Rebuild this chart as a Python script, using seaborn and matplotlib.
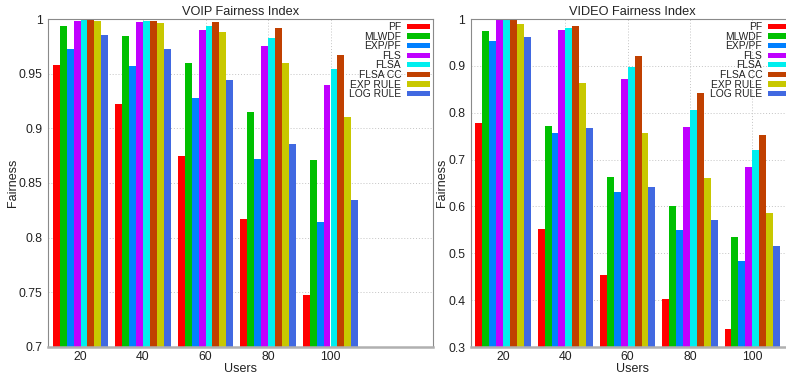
import matplotlib
matplotlib.use("Agg")
import matplotlib.pyplot as plt
import seaborn as sns
import pandas as pd
from matplotlib.ticker import FuncFormatter, MultipleLocator

# ---- data -------------------------------------------------------------
users = ["20", "40", "60", "80", "100"]
schedulers = ["PF", "MLWDF", "EXP/PF", "FLS", "FLSA", "FLSA CC", "EXP RULE", "LOG RULE"]
colors = ["#ff0000", "#00c000", "#0080ff", "#c000ff", "#00eeee", "#c04000", "#c8c800", "#4169e1"]

# VOIP fairness index per scheduler (users = 20, 40, 60, 80, 100)
voip_pf       = [0.958, 0.922, 0.875, 0.817, 0.748]
voip_mlwdf    = [0.994, 0.984, 0.960, 0.915, 0.871]
voip_exp_pf   = [0.973, 0.957, 0.928, 0.872, 0.814]
voip_fls      = [0.998, 0.997, 0.990, 0.975, 0.940]
voip_flsa     = [0.999, 0.998, 0.994, 0.983, 0.954]
voip_flsa_cc  = [1.000, 0.998, 0.997, 0.992, 0.967]
voip_exp_rule = [0.998, 0.996, 0.988, 0.960, 0.910]
voip_log_rule = [0.985, 0.973, 0.944, 0.886, 0.834]

# VIDEO fairness index per scheduler
video_pf       = [0.777, 0.551, 0.454, 0.402, 0.338]
video_mlwdf    = [0.974, 0.772, 0.663, 0.600, 0.534]
video_exp_pf   = [0.952, 0.757, 0.631, 0.549, 0.483]
video_fls      = [0.999, 0.977, 0.873, 0.770, 0.684]
video_flsa     = [0.999, 0.980, 0.897, 0.806, 0.720]
video_flsa_cc  = [1.000, 0.984, 0.920, 0.842, 0.752]
video_exp_rule = [0.989, 0.863, 0.756, 0.660, 0.585]
video_log_rule = [0.962, 0.767, 0.641, 0.572, 0.515]

voip_series = [voip_pf, voip_mlwdf, voip_exp_pf, voip_fls,
               voip_flsa, voip_flsa_cc, voip_exp_rule, voip_log_rule]
video_series = [video_pf, video_mlwdf, video_exp_pf, video_fls,
                video_flsa, video_flsa_cc, video_exp_rule, video_log_rule]


def long_table(series):
    rows = []
    for name, vals in zip(schedulers, series):
        for u, v in zip(users, vals):
            rows.append({"Users": u, "Fairness": v, "Scheduler": name})
    return pd.DataFrame(rows)


# ---- style ------------------------------------------------------------
sns.set_style("white")
plt.rcParams["font.family"] = ["Liberation Sans", "DejaVu Sans"]
text_col = "#222222"
spine_col = "#8a8a8a"
grid_col = "#c4c4c4"

W, H = 786, 376
fig = plt.figure(figsize=(W / 100, H / 100), dpi=100)
fig.patch.set_facecolor("white")

ax_v = fig.add_axes([48 / W, 29 / H, 385 / W, 328 / H])
ax_d = fig.add_axes([470.7 / W, 29 / H, (794 - 470.7) / W, 328 / H])


def draw(ax, series, title, ylim, ystep, xlim):
    df = long_table(series)
    sns.barplot(data=df, x="Users", y="Fairness", hue="Scheduler",
                order=users, hue_order=schedulers, palette=colors,
                width=8 / 9, gap=0, errorbar=None, saturation=1,
                linewidth=0, ax=ax, zorder=2)
    ax.set_ylim(*ylim)
    ax.set_xlim(*xlim)
    ax.yaxis.set_major_locator(MultipleLocator(ystep))
    ax.yaxis.set_major_formatter(FuncFormatter(lambda v, p: f"{round(v, 3):g}"))
    ax.grid(True, axis="both", linestyle=(0, (1, 2)), color=grid_col, linewidth=0.7, zorder=0)
    ax.set_axisbelow(True)
    for s in ["left", "top", "right"]:
        ax.spines[s].set_color(spine_col)
        ax.spines[s].set_linewidth(0.8)
    ax.spines["bottom"].set_color("#b0b0b0")
    ax.spines["bottom"].set_linewidth(1.8)
    ax.tick_params(axis="y", direction="out", length=3, width=0.7, color=spine_col,
                   labelsize=8.8, labelcolor=text_col, pad=1)
    ax.tick_params(axis="x", length=0, labelsize=8.8, labelcolor=text_col, pad=3)
    ax.set_title(title, fontsize=9.2, color=text_col, pad=3)
    ax.set_xlabel("Users", fontsize=9, color=text_col, labelpad=0)
    ax.set_ylabel("Fairness", fontsize=9, color=text_col, labelpad=0)

    leg = ax.get_legend()
    handles = leg.legend_handles
    labels = [t.get_text() for t in leg.get_texts()]
    leg.remove()
    ax.legend(handles, labels, loc="upper right", bbox_to_anchor=(1, 1),
              frameon=False, markerfirst=False, fontsize=7.4,
              handlelength=2.2, handleheight=0.4, handletextpad=0.6,
              labelspacing=-0.04, borderpad=0.0, borderaxespad=0.3,
              labelcolor=text_col)


draw(ax_v, voip_series, "VOIP Fairness Index", (0.7, 1.0), 0.05, (-0.52, 5.64))
draw(ax_d, video_series, "VIDEO Fairness Index", (0.3, 1.0), 0.1, (-0.52, 4.67))

fig.savefig("out.png", dpi=100)
